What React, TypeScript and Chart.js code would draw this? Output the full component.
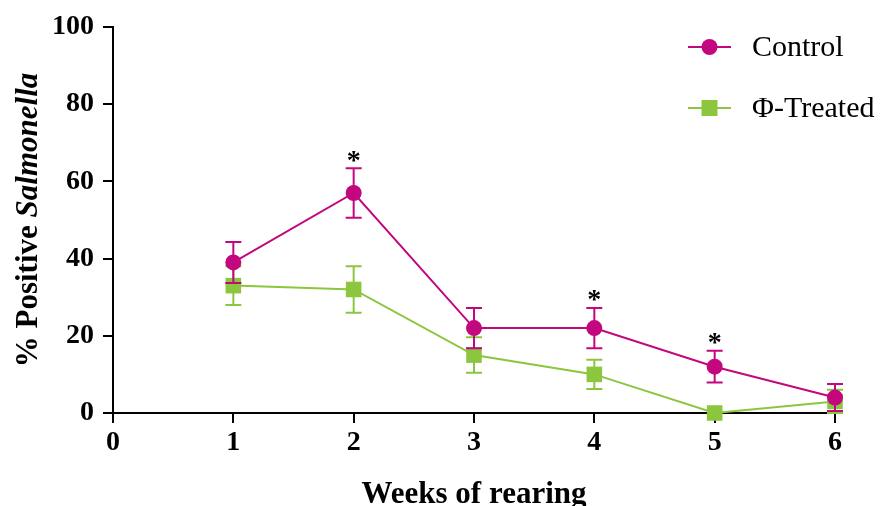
import React, { useEffect, useRef } from "react";
import { Chart, registerables } from "chart.js";

Chart.register(...registerables);

const weeks = [1, 2, 3, 4, 5, 6];
const controlValues = [39, 57, 22, 22, 12, 4];
const controlErrors = [5.3, 6.4, 5.2, 5.2, 4.1, 3.5];
const treatedValues = [33, 32, 15, 10, 0, 3];
const treatedErrors = [5, 6, 4.6, 3.8, 0, 3];
const significantWeeks = [2, 4, 5];
const seriesLabels = ["Control", "Φ-Treated"];
const xTitle = "Weeks of rearing";
const yTitleParts = ["% Positive ", "Salmonella"];

const PINK = "#C3077E";
const GREEN = "#8CC63F";
const FONT = "'Liberation Serif', 'Times New Roman', serif";

export default function App() {
  const ref = useRef<HTMLCanvasElement | null>(null);

  useEffect(() => {
    const canvas = ref.current;
    if (!canvas) return;
    const errorSets = [controlErrors, treatedErrors];

    const errorBarPlugin = {
      id: "errorBars",
      afterDatasetDraw(chart: any, args: any) {
        const ctx = chart.ctx;
        const i = args.index;
        const ds = chart.data.datasets[i];
        const xs = chart.scales.x;
        const ys = chart.scales.y;
        const errs = errorSets[i];
        ctx.save();
        ctx.strokeStyle = ds.borderColor;
        ctx.lineWidth = 2;
        ds.data.forEach((p: any, j: number) => {
          const e = errs[j];
          if (!e) return;
          const px = xs.getPixelForValue(p.x);
          const top = ys.getPixelForValue(p.y + e);
          const bot = ys.getPixelForValue(p.y - e);
          ctx.beginPath();
          ctx.moveTo(px, top);
          ctx.lineTo(px, bot);
          ctx.moveTo(px - 8, top);
          ctx.lineTo(px + 8, top);
          ctx.moveTo(px - 8, bot);
          ctx.lineTo(px + 8, bot);
          ctx.stroke();
        });
        ctx.restore();
      },
    };

    const decorPlugin = {
      id: "decor",
      afterDraw(chart: any) {
        const ctx = chart.ctx;
        const xs = chart.scales.x;
        const ys = chart.scales.y;
        const area = chart.chartArea;
        ctx.save();
        // asterisks
        ctx.fillStyle = "#000";
        ctx.font = `bold 28px ${FONT}`;
        ctx.textAlign = "center";
        ctx.textBaseline = "middle";
        significantWeeks.forEach((w) => {
          const j = weeks.indexOf(w);
          const top = ys.getPixelForValue(controlValues[j] + controlErrors[j]);
          ctx.fillText("*", xs.getPixelForValue(w), top - 7);
        });
        // x title
        ctx.font = `bold 31px ${FONT}`;
        ctx.textBaseline = "alphabetic";
        ctx.fillText(xTitle, (area.left + area.right) / 2, 503);
        // y title
        ctx.translate(37, (area.top + area.bottom) / 2);
        ctx.rotate(-Math.PI / 2);
        ctx.font = `bold 31px ${FONT}`;
        const w1 = ctx.measureText(yTitleParts[0]).width;
        ctx.font = `italic bold 31px ${FONT}`;
        const w2 = ctx.measureText(yTitleParts[1]).width;
        const start = -(w1 + w2) / 2;
        ctx.textAlign = "left";
        ctx.font = `bold 31px ${FONT}`;
        ctx.fillText(yTitleParts[0], start, 0);
        ctx.font = `italic bold 31px ${FONT}`;
        ctx.fillText(yTitleParts[1], start + w1, 0);
        ctx.restore();

        // legend
        ctx.save();
        const items = [
          { y: 47, color: PINK, style: "circle" },
          { y: 108, color: GREEN, style: "rect" },
        ];
        items.forEach((it, k) => {
          ctx.strokeStyle = it.color;
          ctx.fillStyle = it.color;
          ctx.lineWidth = 2;
          ctx.beginPath();
          ctx.moveTo(688, it.y);
          ctx.lineTo(731, it.y);
          ctx.stroke();
          ctx.beginPath();
          if (it.style === "circle") {
            ctx.arc(709.5, it.y, 8, 0, Math.PI * 2);
          } else {
            ctx.rect(701.5, it.y - 8, 16, 16);
          }
          ctx.fill();
          ctx.fillStyle = "#000";
          ctx.font = `30px ${FONT}`;
          ctx.textAlign = "left";
          ctx.textBaseline = "middle";
          ctx.fillText(seriesLabels[k], 752, it.y + 1);
        });
        ctx.restore();
      },
    };

    const tickFont = { family: FONT, size: 28, weight: "bold" as const };

    const chart = new Chart(canvas, {
      type: "line",
      data: {
        datasets: [
          {
            label: seriesLabels[0],
            data: weeks.map((w, i) => ({ x: w, y: controlValues[i] })),
            borderColor: PINK,
            backgroundColor: PINK,
            borderWidth: 2,
            pointStyle: "circle",
            pointRadius: 8,
            pointBorderWidth: 0,
            clip: false as any,
          },
          {
            label: seriesLabels[1],
            data: weeks.map((w, i) => ({ x: w, y: treatedValues[i] })),
            borderColor: GREEN,
            backgroundColor: GREEN,
            borderWidth: 2,
            pointStyle: "rect",
            pointRadius: 11,
            pointBorderWidth: 0,
            clip: false as any,
          },
        ],
      },
      options: {
        responsive: false,
        animation: false,
        layout: { padding: { top: 27, right: 46, left: 0, bottom: 0 } },
        plugins: { legend: { display: false }, tooltip: { enabled: false } },
        scales: {
          x: {
            type: "linear",
            min: 0,
            max: 6,
            afterFit: (s: any) => {
              s.height = 93;
            },
            ticks: { stepSize: 1, color: "#000", font: tickFont, padding: 3 },
            grid: { drawOnChartArea: false, tickLength: 10, color: "#000", lineWidth: 2 },
            border: { color: "#000", width: 2 },
          },
          y: {
            type: "linear",
            min: 0,
            max: 100,
            afterFit: (s: any) => {
              s.width = 113;
            },
            ticks: { stepSize: 20, color: "#000", font: tickFont, padding: 9 },
            grid: { drawOnChartArea: false, tickLength: 10, color: "#000", lineWidth: 2 },
            border: { color: "#000", width: 2 },
          },
        },
      },
      plugins: [errorBarPlugin, decorPlugin],
    } as any);

    return () => chart.destroy();
  }, []);

  return (
    <div style={{ position: "absolute", left: 0, top: 0, width: 881, height: 506, background: "#fff" }}>
      <canvas ref={ref} width={881} height={506} style={{ display: "block" }} />
    </div>
  );
}
